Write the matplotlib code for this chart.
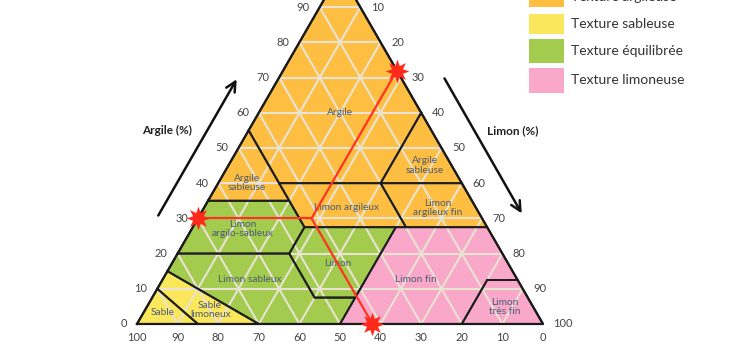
import numpy as np
import matplotlib
matplotlib.use("Agg")
import matplotlib.pyplot as plt
from matplotlib.patches import Polygon, Rectangle

plt.rcParams['font.family'] = ['Lato', 'DejaVu Sans']

# ------------------------------------------------------------------ data
# regions as (clay %, sand %) vertices
region_names = ["Argile", "Argile\nsableuse", "Argile\nsableuse", "Limon argileux",
                "Limon\nargileux fin", "Limon\nargilo-sableux", "Limon", "Limon sableux",
                "Sable", "Sable\nlimoneux", "Limon fin", "Limon\ntrès fin"]
region_texture = ["arg", "arg", "arg", "arg", "arg", "equ", "equ", "equ",
                  "sab", "sab", "lim", "lim"]
region_polys = [
    [(100, 0), (55, 45), (40, 45), (40, 20), (60, 0)],
    [(55, 45), (35, 65), (35, 45)],
    [(60, 0), (40, 20), (40, 0)],
    [(40, 45), (40, 20), (27.5, 20), (27.5, 45)],
    [(40, 20), (40, 0), (27.5, 0), (27.5, 20)],
    [(35, 65), (35, 45), (27.5, 45), (20, 52.5), (20, 80)],
    [(27.5, 45), (27.5, 22.5), (7.5, 42.5), (7.5, 52.5), (20, 52.5)],
    [(20, 80), (20, 52.5), (7.5, 52.5), (7.5, 42.5), (0, 50), (0, 70), (15, 85)],
    [(10, 90), (0, 85), (0, 100)],
    [(15, 85), (0, 70), (0, 85), (10, 90)],
    [(27.5, 22.5), (27.5, 0), (12.5, 0), (12.5, 7.5), (0, 20), (0, 50)],
    [(12.5, 7.5), (12.5, 0), (0, 0), (0, 20)],
]
# label anchor (clay, sand)
region_label_pos = [(60, 20), (40, 53), (45, 6.5), (33, 32), (33, 9.5), (27, 60.5),
                    (17.3, 42), (12.5, 66), (3.4, 92), (4, 80), (12.5, 25), (4.8, 7)]

legend_labels = ["Texture argileuse", "Texture sableuse", "Texture équilibrée", "Texture limoneuse"]
texture_colors = {"arg": "#FDBE41", "sab": "#FBE75C", "equ": "#A3CB4E", "lim": "#F9A8CA"}
legend_keys = ["arg", "sab", "equ", "lim"]

ticks = [0, 10, 20, 30, 40, 50, 60, 70, 80, 90, 100]

# example sample
sample_clay = 30
sample_sand = 42

H = np.sqrt(3) / 2


def tern(clay, sand):
    """Ternary (clay, sand) -> cartesian x, y."""
    return 100 - sand - clay / 2.0, clay * H


# ------------------------------------------------------------------ figure
fig = plt.figure(figsize=(7.56, 3.55), dpi=100)
ax = fig.add_axes([0, 0, 1, 1])
ax.set_xlim(-33.74, 152.46)
ax.set_ylim(-7.63, 79.70)
ax.axis('off')

# filled regions
for poly, tex in zip(region_polys, region_texture):
    pts = [tern(c, s) for c, s in poly]
    ax.add_patch(Polygon(pts, closed=True, facecolor=texture_colors[tex], edgecolor='none', zorder=1))

# light grid
for v in range(10, 100, 10):
    for a, b in [((v, 100 - v), (v, 0)),          # clay
                 ((0, v), (100 - v, v)),          # sand
                 ((0, 100 - v), (100 - v, 0))]:   # silt
        x0, y0 = tern(*a)
        x1, y1 = tern(*b)
        ax.plot([x0, x1], [y0, y1], color='#E9E3D3', lw=1.5, zorder=2, solid_capstyle='butt')

# region borders
for poly in region_polys:
    pts = [tern(c, s) for c, s in poly] + [tern(*poly[0])]
    xs, ys = zip(*pts)
    ax.plot(xs, ys, color='#1f1f1f', lw=1.4, zorder=3, solid_joinstyle='miter')

# outer triangle
tri = [tern(0, 100), tern(0, 0), tern(100, 0), tern(0, 100)]
xs, ys = zip(*tri)
ax.plot(xs, ys, color='#1a1a1a', lw=1.6, zorder=4)

# region labels
for name, (c, s) in zip(region_names, region_label_pos):
    x, y = tern(c, s)
    ax.text(x, y, name, ha='center', va='center', fontsize=7.3, color='#4A5A78',
            linespacing=1.05, zorder=5)

# tick labels
for t in ticks:
    if t < 100:
        x, y = tern(t, 100 - t)
        ax.text(x - 2.4, y, str(t), ha='right', va='center', fontsize=8, color='#444444')
    if t > 0:
        x, y = tern(100 - t, 0)
        ax.text(x + 2.6, y, str(t), ha='left', va='center', fontsize=8, color='#444444')
    x, y = tern(0, t)
    ax.text(x, y - 3.4, str(t), ha='center', va='center', fontsize=8, color='#444444')

# axis arrows and titles
arrow_kw = dict(arrowstyle='->,head_length=0.7,head_width=0.35', color='#111111', lw=1.8)
ax.annotate('', xy=(24.9, 60.8), xytext=(4.9, 26.1), arrowprops=arrow_kw)
ax.annotate('', xy=(95.1, 26.6), xytext=(75.4, 61.0), arrowprops=arrow_kw)
ax.text(7.4, 47.5, 'Argile (%)', ha='center', va='center', fontsize=8.5,
        fontweight='bold', color='#222222')
ax.text(92.6, 47.5, 'Limon (%)', ha='center', va='center', fontsize=8.5,
        fontweight='bold', color='#222222')

# reading lines for the sample
px, py = tern(sample_clay, sample_sand)
sample_silt = 100 - sample_clay - sample_sand
ends = [tern(sample_clay, 100 - sample_clay),
        tern(100 - sample_silt, 0),
        tern(0, sample_sand)]
for ex, ey in ends:
    ax.plot([px, ex], [py, ey], color='#FF3322', lw=1.6, zorder=6)
    ax.plot(ex, ey, marker=(8, 1, 0), markersize=17, color='#FF2A1A',
            markeredgewidth=0, zorder=7, clip_on=False)

# legend (figure pixel coords, top-left origin)
W, Hpx = 756.0, 355.0
legend_boxes = [(-12, 7), (14, 34), (39, 63), (68, 93)]
for (y0, y1), key, lab in zip(legend_boxes, legend_keys, legend_labels):
    fig.patches.append(Rectangle((529 / W, 1 - y1 / Hpx), 35 / W, (y1 - y0) / Hpx,
                                 transform=fig.transFigure, facecolor=texture_colors[key],
                                 edgecolor='none'))
    yc = (y0 + y1) / 2.0 if y0 > 0 else -3
    fig.text(571 / W, 1 - yc / Hpx, lab, ha='left', va='center', fontsize=10,
             color='#333333')

fig.savefig('out.png', dpi=100)
